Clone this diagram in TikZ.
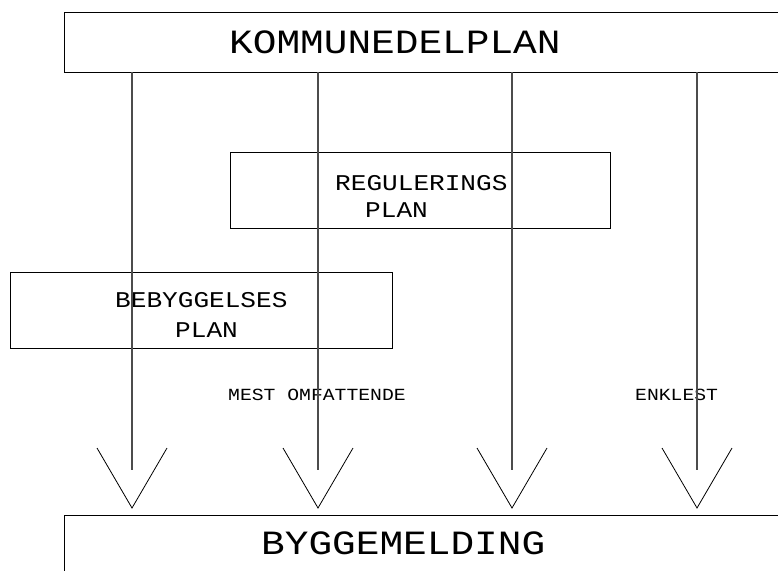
\documentclass[tikz,border=0pt]{standalone}
\usepackage{fontspec}
\usetikzlibrary{calc}
\newfontfamily\cad[FakeStretch=1.16]{Liberation Mono}
\begin{document}
\begin{tikzpicture}[x=1pt,y=-1pt,
  box/.style={draw=black,line width=0.9pt,rectangle,inner sep=0pt},
  lbl/.style={inner sep=0pt,anchor=base west,text=black},
  big/.style={lbl,font=\cad\fontsize{34}{34}\selectfont},
  mid/.style={lbl,font=\cad\fontsize{22.5}{22.5}\selectfont},
  sml/.style={lbl,font=\cad\fontsize{17}{17}\selectfont},
  feed/.style={draw=black!70,line width=1.3pt},
  vee/.style={draw=black,line width=0.8pt}]
\useasboundingbox (0,0) rectangle (778,570);
\clip (0,0) rectangle (778,570);
% boxes
\node[box,minimum width=730pt,minimum height=60pt] (kdp) at (429,42) {};
\node[box,minimum width=380pt,minimum height=76pt] (reg) at (420,190) {};
\node[box,minimum width=382pt,minimum height=76pt] (beb) at (201,310) {};
\node[box,minimum width=730pt,minimum height=80pt] (bygg) at (429,555) {};
% texts
\node[big] (tk) at (229,53) {KOMMUNEDELPLAN};
\node[mid] (tr1) at (335,190) {REGULERINGS};
\node[mid] (tr2) at (365,217) {PLAN};
\node[mid] (tb1) at (115,307) {BEBYGGELSES};
\node[mid] (tb2) at (175,337) {PLAN};
\node[sml] (tm) at (228,400) {MEST OMFATTENDE};
\node[sml] (te) at (635,400) {ENKLEST};
\node[big] (tg) at (261,554) {BYGGEMELDING};
% connector ends and V tips
\foreach \i/\x in {1/132,2/318,3/512,4/697}{
  \coordinate (e\i) at (\x,470);
  \coordinate (v\i) at (\x,508);
  \draw[feed] (kdp.south -| e\i) -- (e\i);
  \draw[vee] ($(v\i)+(-35,-60)$) -- (v\i) -- ($(v\i)+(35,-60)$);
}
\end{tikzpicture}
\end{document}
